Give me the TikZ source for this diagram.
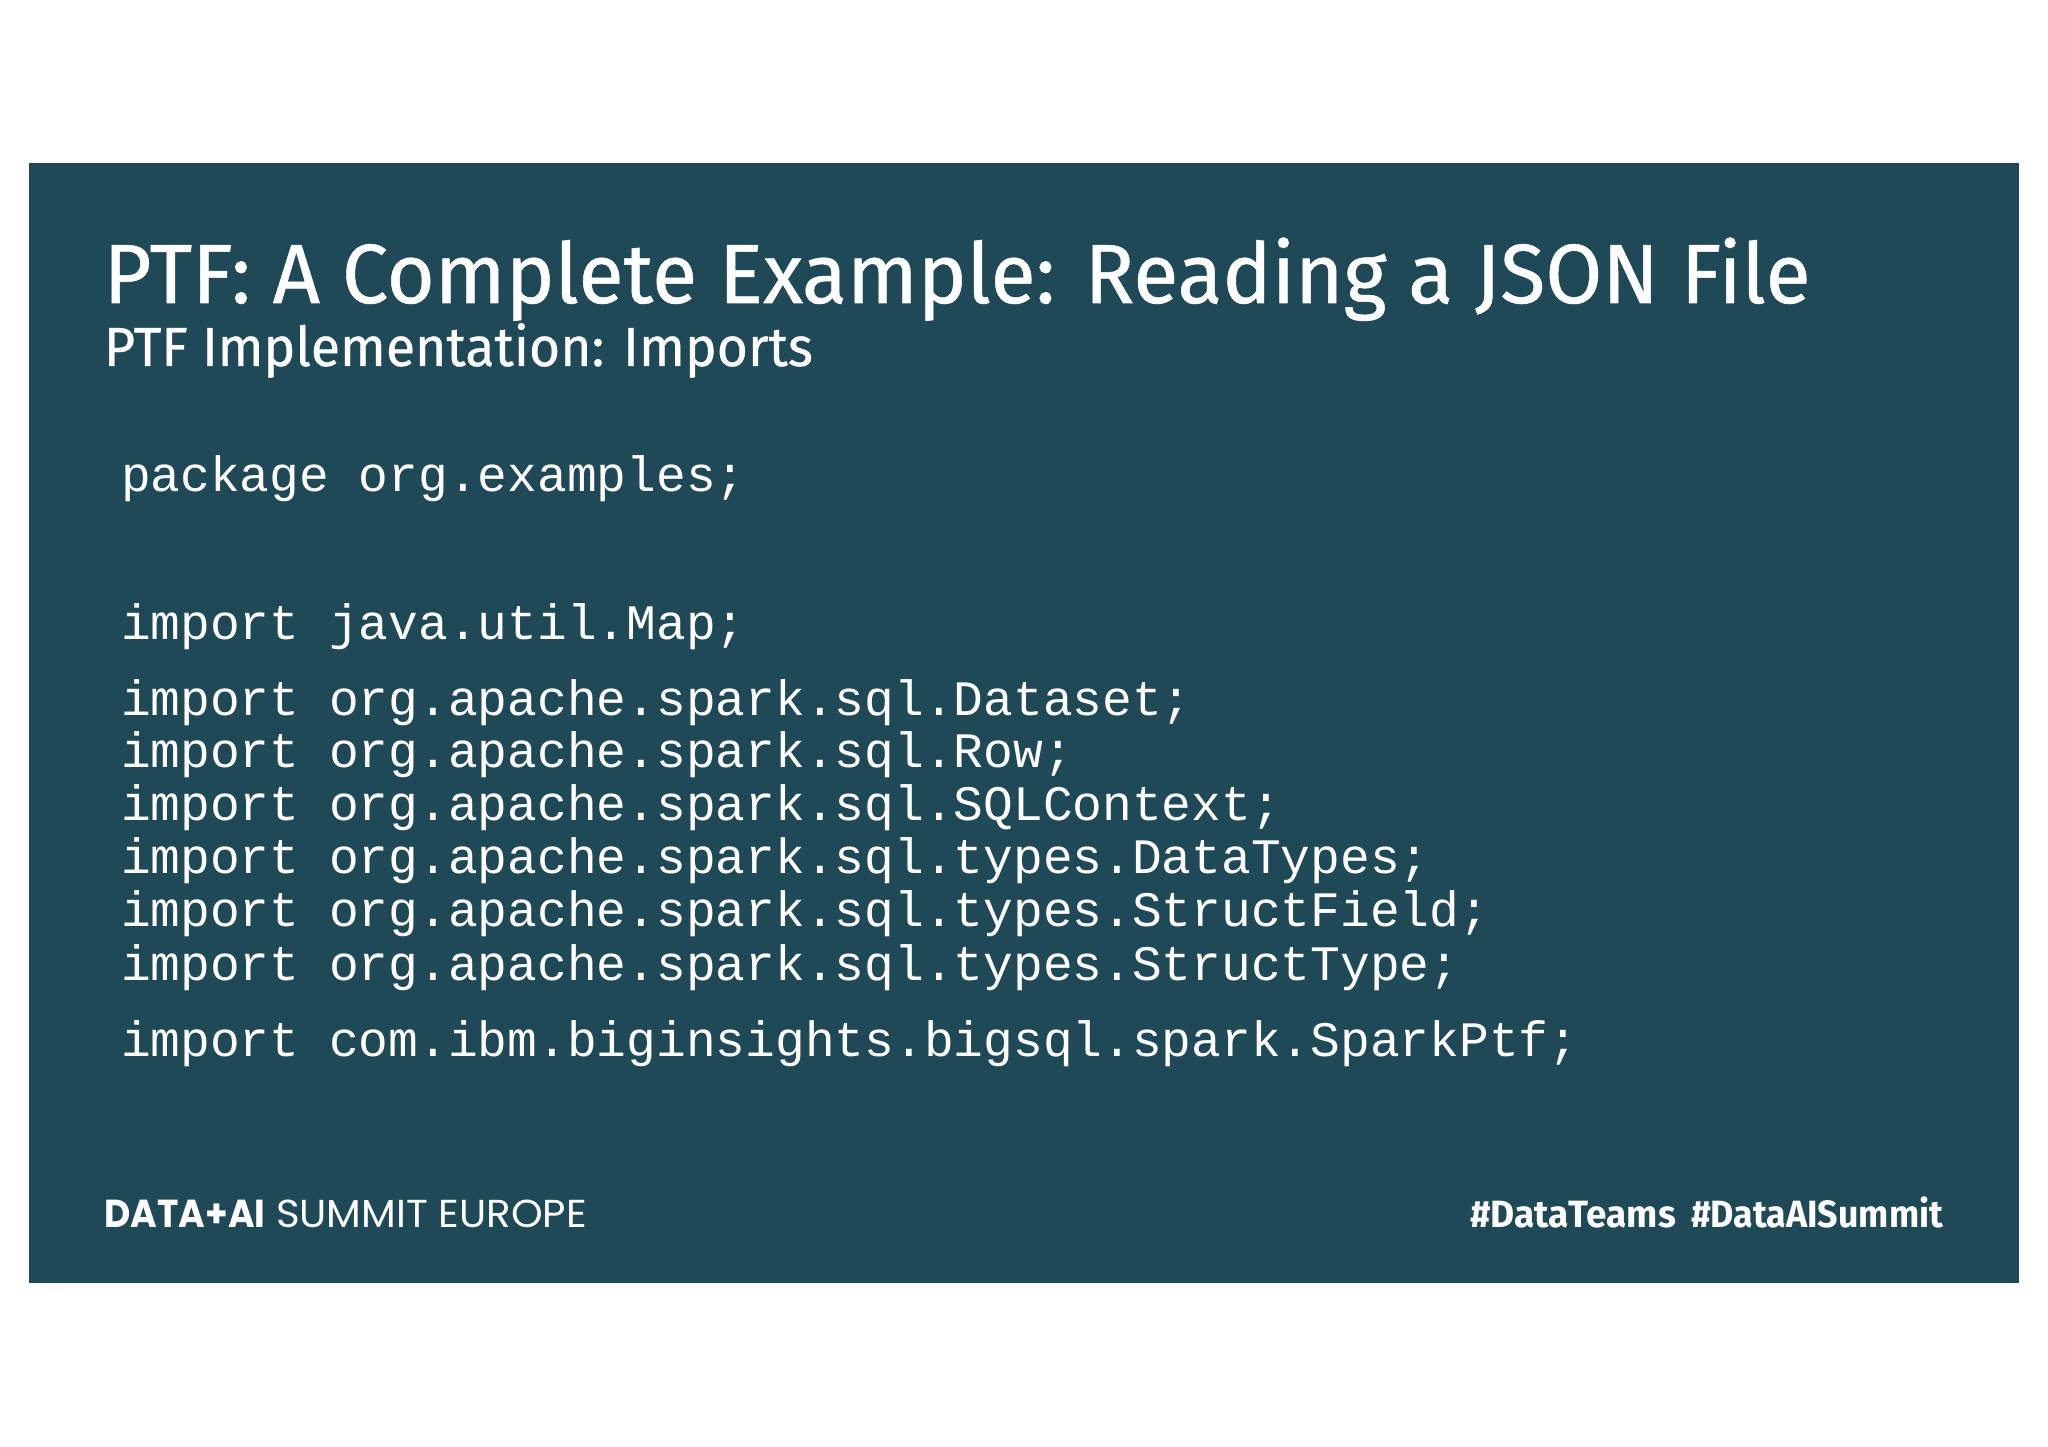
\documentclass[tikz,border=0pt]{standalone}
\usepackage{graphicx}
\usepackage{fontspec}
\setmainfont{Fira Sans}
\newfontfamily\titlef[FakeBold=0.6]{Fira Sans}
\newfontfamily\codef{Liberation Mono}
\newfontfamily\footf{Poppins}
\definecolor{slidebg}{HTML}{1F4957}
\newcommand{\fitw}[2]{\resizebox{#1pt}{\height}{#2}}
\newcommand{\sz}[1]{\fontsize{#1}{#1}\selectfont}
\tikzset{
  txt/.style={anchor=base west,inner sep=0pt,outer sep=0pt,text=white},
  codeline/.style={txt,font=\codef\sz{49.57}},
}
\begin{document}
\begin{tikzpicture}[x=1pt,y=-1pt]
\useasboundingbox (0,0) rectangle (2048,1447);
\fill[white] (0,0) rectangle (2048,1447);
\fill[slidebg] (29,163) rectangle (2018.5,1282.5);
\node[txt] (title) at (103.5,303) {\titlef\sz{84}\fitw{1707}{PTF: A Complete Example: Reading a JSON File}};
\node[txt] (sub) at (104,366) {\titlef\sz{55}\fitw{709}{PTF Implementation: Imports}};
\node[codeline] (c1) at (121,491.5) {package org.examples;};
\node[codeline] (c2) at (121,639) {import java.util.Map;};
\node[codeline] (c3) at (121,715) {import org.apache.spark.sql.Dataset;};
\node[codeline] (c4) at (121,767.5) {import org.apache.spark.sql.Row;};
\node[codeline] (c5) at (121,820) {import org.apache.spark.sql.SQLContext;};
\node[codeline] (c6) at (121,873) {import org.apache.spark.sql.types.DataTypes;};
\node[codeline] (c7) at (121,926.5) {import org.apache.spark.sql.types.StructField;};
\node[codeline] (c8) at (121,980) {import org.apache.spark.sql.types.StructType;};
\node[codeline] (c9) at (121,1056) {import com.ibm.biginsights.bigsql.spark.SparkPtf;};
\node[txt] (fa) at (104.5,1227) {\footf\bfseries\sz{39}\fitw{161}{DATA+AI}};
\node[txt] (fb) at (276,1227) {\footf\sz{39}\fitw{311}{SUMMIT EUROPE}};
\node[txt] (fc) at (1470,1227) {\bfseries\sz{38}\fitw{206}{\#DataTeams}};
\node[txt] (fd) at (1691,1227) {\bfseries\sz{38}\fitw{252}{\#DataAISummit}};
\end{tikzpicture}
\end{document}
